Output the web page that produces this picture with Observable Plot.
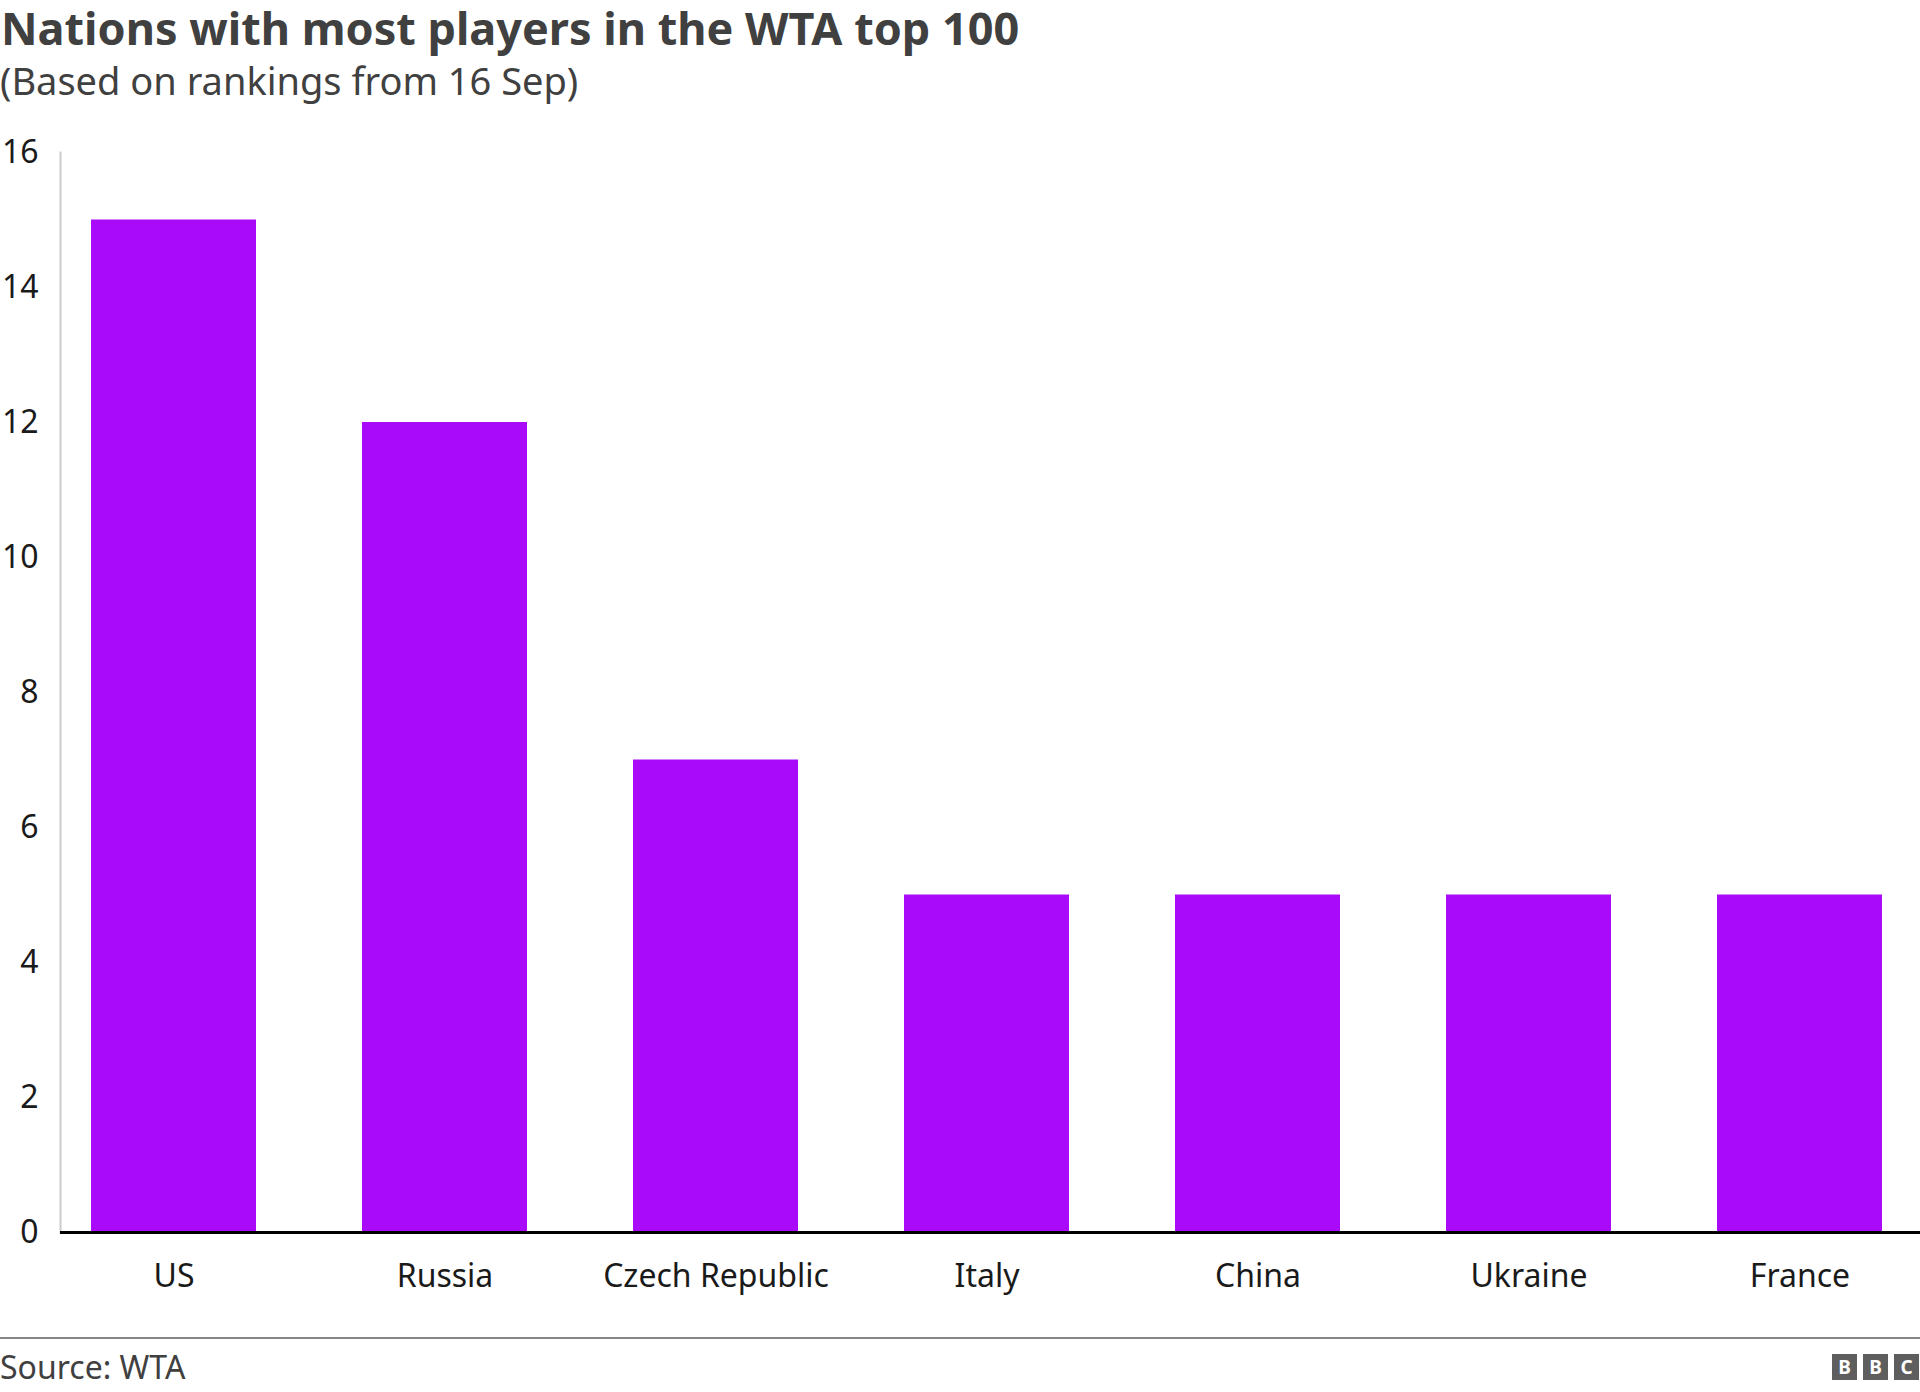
<!DOCTYPE html>
<html>
<head>
<meta charset="utf-8">
<script src="https://cdn.jsdelivr.net/npm/d3@7"></script>
<script src="https://cdn.jsdelivr.net/npm/@observablehq/plot@0.6"></script>
<style>
  html, body { margin: 0; padding: 0; background: #fff; }
  body { width: 1920px; height: 1392px; position: relative; overflow: hidden; font-family: "Noto Sans", "Open Sans", sans-serif; }
  #title { position: absolute; left: 1px; top: 2px; font-size: 45px; font-weight: 700; color: #404040; line-height: 52px; white-space: nowrap; z-index: 2; }
  #subtitle { position: absolute; left: 0px; top: 57px; font-size: 38px; color: #404040; line-height: 46px; white-space: nowrap; z-index: 2; }
  #chart { position: absolute; left: 0; top: 100px; z-index: 1; }
  #rule { position: absolute; left: 0; top: 1337px; width: 1920px; height: 2px; background: #858585; }
  #source { position: absolute; left: 0; top: 1347px; font-size: 32px; color: #404040; line-height: 40px; white-space: nowrap; }
  #logo { position: absolute; top: 1354px; left: 1832px; display: flex; gap: 6px; }
  #logo span { display: block; width: 25px; height: 26px; background: #5e5e5e; color: #fff; font-weight: 700; font-size: 19px; line-height: 26px; text-align: center; }
</style>
</head>
<body>
<div id="title">Nations with most players in the WTA top 100</div>
<div id="subtitle">(Based on rankings from 16 Sep)</div>
<div id="chart"></div>
<div id="rule"></div>
<div id="source">Source: WTA</div>
<div id="logo"><span>B</span><span>B</span><span>C</span></div>
<script>
const countries = ["US", "Russia", "Czech Republic", "Italy", "China", "Ukraine", "France"];
const players = [15, 12, 7, 5, 5, 5, 5];
const yTicks = [0, 2, 4, 6, 8, 10, 12, 14, 16];

const data = countries.map((c, i) => ({country: c, players: players[i]}));

const chart = Plot.plot({
  width: 1920,
  height: 1220,
  marginTop: 52,
  marginBottom: 88,
  marginLeft: 60,
  marginRight: 0,
  style: {fontFamily: "'Noto Sans', 'Open Sans', sans-serif", fontSize: "32px", color: "#1a1a1a", background: "transparent", overflow: "visible"},
  x: {domain: countries, range: [90, 1883], paddingInner: 0.392, paddingOuter: 0, label: null},
  y: {domain: [0, 16], label: null},
  marks: [
    Plot.frame({anchor: "left", stroke: "#cccccc", strokeWidth: 2}),
    Plot.barY(data, {x: "country", y: "players", fill: "#aa0afa"}),
    Plot.ruleY([0], {stroke: "#000", strokeWidth: 3}),
    Plot.axisY({ticks: yTicks, tickSize: 0, tickPadding: 22, label: null}),
    Plot.axisX({tickSize: 0, tickPadding: 32, label: null})
  ]
});
document.getElementById("chart").appendChild(chart);
</script>
</body>
</html>
